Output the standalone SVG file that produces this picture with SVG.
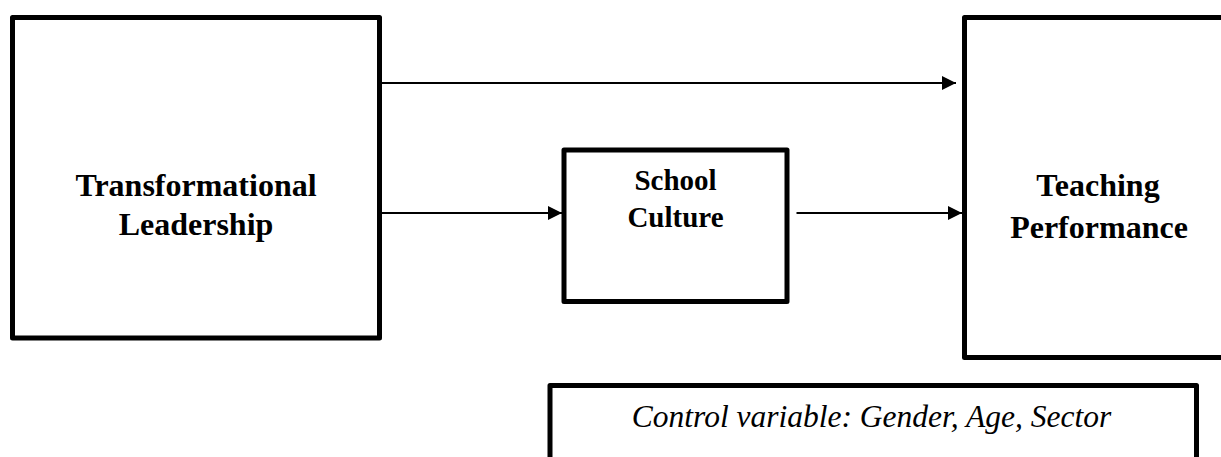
<svg xmlns="http://www.w3.org/2000/svg" width="1221" height="457" viewBox="0 0 1221 457">
  <style>
    .box { fill: #ffffff; stroke: #000000; stroke-width: 5; stroke-linejoin: round; }
    .lbl { font-family: "Liberation Serif", "Times New Roman", serif; font-weight: bold; fill: #000000; text-anchor: middle; }
    .ctl { font-family: "Liberation Serif", "Times New Roman", serif; font-style: italic; fill: #000000; text-anchor: middle; }
    .conn { stroke: #000000; stroke-width: 2; fill: none; }
  </style>
  <defs>
    <marker id="arrow" markerUnits="userSpaceOnUse" markerWidth="14" markerHeight="14" refX="14" refY="7" orient="auto">
      <path d="M0,0 L14,7 L0,14 Z" fill="#000000"/>
    </marker>
  </defs>
  <rect width="1221" height="457" fill="#ffffff"/>
  <g id="transformational-leadership">
    <rect class="box" x="12.5" y="17.5" width="367" height="320.5"/>
    <text class="lbl" x="196" y="196" font-size="32">Transformational</text>
    <text class="lbl" x="196" y="235" font-size="32">Leadership</text>
  </g>
  <g id="school-culture">
    <rect class="box" x="564" y="150" width="223" height="151.5"/>
    <text class="lbl" x="675.5" y="190" font-size="29">School</text>
    <text class="lbl" x="675.5" y="227" font-size="29">Culture</text>
  </g>
  <g id="teaching-performance">
    <rect class="box" x="964.5" y="17.5" width="260" height="340"/>
    <text class="lbl" x="1098" y="196" font-size="32">Teaching</text>
    <text class="lbl" x="1099" y="238" font-size="32">Performance</text>
  </g>
  <g id="control-variable">
    <rect class="box" x="550" y="385.5" width="646.5" height="80"/>
    <text class="ctl" x="871.5" y="427" font-size="31.5">Control variable: Gender, Age, Sector</text>
  </g>
  <g id="connectors">
    <line class="conn" x1="382" y1="83" x2="956" y2="83" marker-end="url(#arrow)"/>
    <line class="conn" x1="382" y1="213" x2="562" y2="213" marker-end="url(#arrow)"/>
    <line class="conn" x1="796.5" y1="213" x2="962" y2="213" marker-end="url(#arrow)"/>
  </g>
</svg>
